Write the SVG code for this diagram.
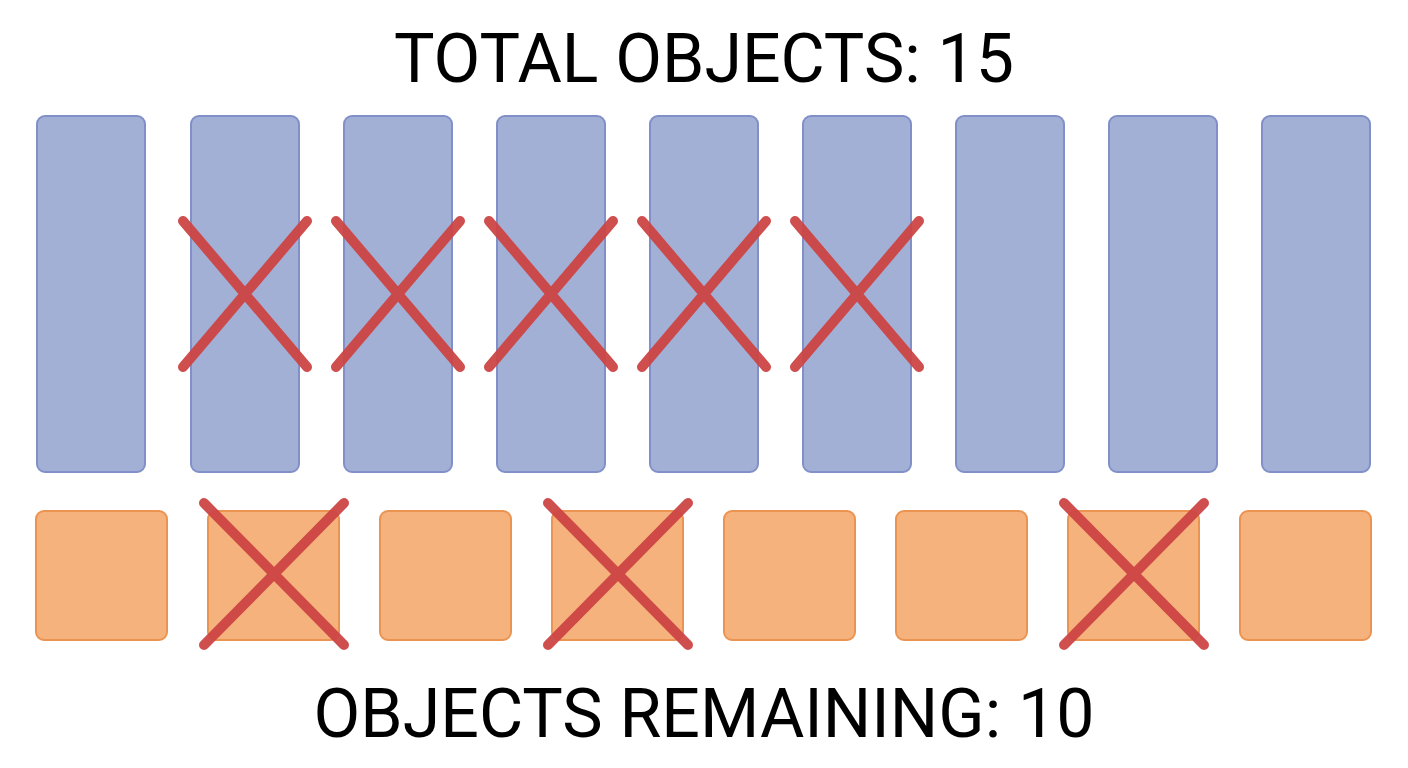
<svg xmlns="http://www.w3.org/2000/svg" width="1408" height="768" viewBox="0 0 1408 768">
<style>
.b{fill:#a3b0d6;stroke:#8190c8;stroke-width:2}
.o{fill:#f5b27c;stroke:#eb9452;stroke-width:2}
.x{stroke:#cc4444;stroke-width:10;stroke-linecap:round;fill:none;opacity:0.95}
.t{font-family:Roboto,"Liberation Sans",sans-serif;font-size:68px;fill:#000;text-anchor:middle}
</style>
<rect width="1408" height="768" fill="#fff"/>
<text class="t" x="704" y="82">TOTAL OBJECTS: 15</text>
<g id="blue">
<rect id="b1" class="b" x="37" y="116" width="108" height="356" rx="8"/>
<rect id="b2" class="b" x="191" y="116" width="108" height="356" rx="8"/>
<rect id="b3" class="b" x="344" y="116" width="108" height="356" rx="8"/>
<rect id="b4" class="b" x="497" y="116" width="108" height="356" rx="8"/>
<rect id="b5" class="b" x="650" y="116" width="108" height="356" rx="8"/>
<rect id="b6" class="b" x="803" y="116" width="108" height="356" rx="8"/>
<rect id="b7" class="b" x="956" y="116" width="108" height="356" rx="8"/>
<rect id="b8" class="b" x="1109" y="116" width="108" height="356" rx="8"/>
<rect id="b9" class="b" x="1262" y="116" width="108" height="356" rx="8"/>
</g>
<g id="orange">
<rect id="o1" class="o" x="36" y="511" width="131" height="129" rx="8"/>
<rect id="o2" class="o" x="208" y="511" width="131" height="129" rx="8"/>
<rect id="o3" class="o" x="380" y="511" width="131" height="129" rx="8"/>
<rect id="o4" class="o" x="552" y="511" width="131" height="129" rx="8"/>
<rect id="o5" class="o" x="724" y="511" width="131" height="129" rx="8"/>
<rect id="o6" class="o" x="896" y="511" width="131" height="129" rx="8"/>
<rect id="o7" class="o" x="1068" y="511" width="131" height="129" rx="8"/>
<rect id="o8" class="o" x="1240" y="511" width="131" height="129" rx="8"/>
</g>
<g id="crosses">
<path class="x" d="M183,221L307,367M307,221L183,367"/>
<path class="x" d="M336,221L460,367M460,221L336,367"/>
<path class="x" d="M489,221L613,367M613,221L489,367"/>
<path class="x" d="M642,221L766,367M766,221L642,367"/>
<path class="x" d="M795,221L919,367M919,221L795,367"/>
<path class="x" d="M204,503L344,645M344,503L204,645"/>
<path class="x" d="M548,503L688,645M688,503L548,645"/>
<path class="x" d="M1064,503L1204,645M1204,503L1064,645"/>
</g>
<text class="t" x="704" y="737">OBJECTS REMAINING: 10</text>
</svg>
